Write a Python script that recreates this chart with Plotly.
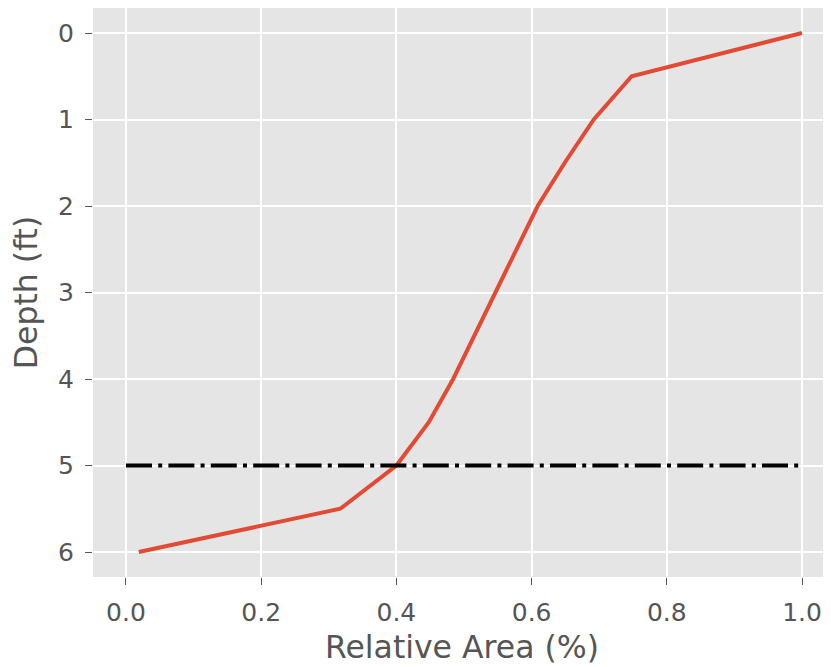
import plotly.graph_objects as go

depth = [0, 0.5, 1.0, 1.5, 2.0, 2.5, 3.0, 3.5, 4.0, 4.5, 5.0, 5.5, 6.0]
rel_area = [1.0, 0.748, 0.692, 0.649, 0.609, 0.578, 0.546, 0.515, 0.484, 0.448, 0.400, 0.317, 0.019]
ref_x = [0.0, 1.0]
ref_depth = [5.0, 5.0]
x_ticks = [0.0, 0.2, 0.4, 0.6, 0.8, 1.0]
y_ticks = [0, 1, 2, 3, 4, 5, 6]

fig = go.Figure()
fig.add_trace(go.Scatter(x=rel_area, y=depth, mode="lines",
                         line=dict(color="#E24A33", width=4), showlegend=False))
fig.add_trace(go.Scatter(x=ref_x, y=ref_depth, mode="lines",
                         line=dict(color="black", width=4, dash="26px,6.2px,4px,6.2px"),
                         showlegend=False))

axis_common = dict(
    showgrid=True, gridcolor="white", gridwidth=1.6,
    zeroline=False, showline=False,
    ticks="outside", ticklen=7, tickwidth=1.3, tickcolor="#555555",
    tickfont=dict(family="DejaVu Sans", size=25, color="#555555"),
    title_font=dict(family="DejaVu Sans", size=31.5, color="#555555"),
)

fig.update_xaxes(range=[-0.0488, 1.0429], tickvals=x_ticks,
                 ticktext=[f"{v:.1f}" for v in x_ticks], ticklabelstandoff=6,
                 title_text="Relative Area (%)", title_standoff=9, **axis_common)
fig.update_yaxes(range=[6.289, -0.289], tickvals=y_ticks,
                 ticktext=[str(v) for v in y_ticks], ticklabelstandoff=6,
                 title_text="Depth (ft)", title_standoff=13, **axis_common)

fig.update_layout(
    width=823, height=659,
    margin=dict(l=85, r=0, t=0, b=90),
    plot_bgcolor="#E5E5E5", paper_bgcolor="white",
    font=dict(family="DejaVu Sans"),
)

fig.write_html("out.html")
